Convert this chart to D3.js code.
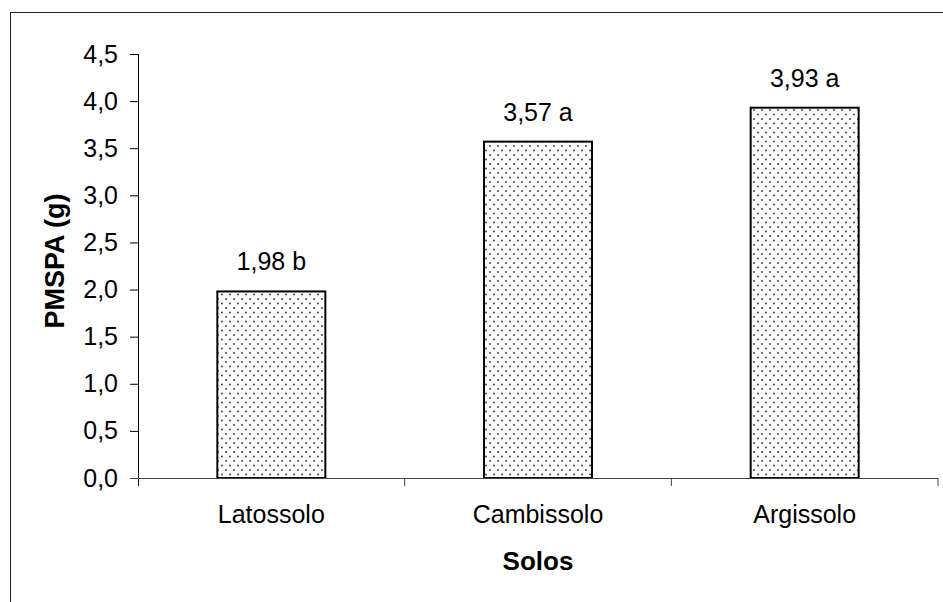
<!DOCTYPE html>
<html>
<head>
<meta charset="utf-8">
<script src="https://cdn.jsdelivr.net/npm/d3@7"></script>
<style>
  body { margin: 0; background: #fff; }
  text { font-family: Arial, "Liberation Sans", sans-serif; fill: #000; }
</style>
</head>
<body>
<div id="chart"></div>
<script>
const soils = ["Latossolo", "Cambissolo", "Argissolo"];
const pmspa = [1.98, 3.57, 3.93];
const letters = ["b", "a", "a"];
const yTicks = [0, 0.5, 1, 1.5, 2, 2.5, 3, 3.5, 4, 4.5];

const width = 943,
  height = 602;

const svg = d3
  .select("#chart")
  .append("svg")
  .attr("width", width)
  .attr("height", height);

// dotted fill like the spreadsheet pattern
const pat = svg
  .append("defs")
  .append("pattern")
  .attr("id", "dots")
  .attr("patternUnits", "userSpaceOnUse")
  .attr("width", 8)
  .attr("height", 9);
pat.append("rect").attr("width", 8).attr("height", 9).attr("fill", "#fff");
pat.append("circle").attr("cx", 2).attr("cy", 2).attr("r", 0.9).attr("fill", "#333");
pat.append("circle").attr("cx", 6).attr("cy", 6.5).attr("r", 0.9).attr("fill", "#333");

// outer frame (runs off right and bottom)
svg
  .append("rect")
  .attr("x", 10.5)
  .attr("y", 12.5)
  .attr("width", 960)
  .attr("height", 620)
  .attr("fill", "none")
  .attr("stroke", "#222")
  .attr("stroke-width", 1);

const plotLeft = 138,
  plotRight = 938,
  plotTop = 54,
  plotBottom = 478;

const x = d3
  .scaleBand()
  .domain(soils)
  .range([plotLeft, plotRight])
  .paddingInner(0.595)
  .paddingOuter(0.2975);

const y = d3.scaleLinear().domain([0, 4.5]).range([plotBottom, plotTop]);

// y axis
const yAxis = svg
  .append("g")
  .attr("transform", `translate(${plotLeft},0)`)
  .call(
    d3
      .axisLeft(y)
      .tickValues(yTicks)
      .tickSize(8)
      .tickPadding(12)
      .tickFormat((d) => d3.format(".1f")(d).replace(".", ","))
  );
yAxis.select(".domain").attr("stroke", "#000").attr("d", `M0.5,${plotTop}V${plotBottom + 8}`);
yAxis.selectAll(".tick line").attr("stroke", "#000");
yAxis
  .selectAll(".tick text")
  .attr("font-size", 25)
  .attr("font-family", "Arial, 'Liberation Sans', sans-serif")
  .attr("fill", "#000");

// bars
svg
  .append("g")
  .selectAll("rect")
  .data(soils)
  .join("rect")
  .attr("x", (d) => x(d))
  .attr("y", (d, i) => y(pmspa[i]))
  .attr("width", x.bandwidth())
  .attr("height", (d, i) => plotBottom - y(pmspa[i]))
  .attr("fill", "url(#dots)")
  .attr("stroke", "#000")
  .attr("stroke-width", 2);

// x axis line + ticks between categories
const step = x.step();
const xTickPos = [1, 2, 3].map((k) => plotLeft + k * step);
svg
  .append("line")
  .attr("x1", plotLeft - 8)
  .attr("x2", plotRight)
  .attr("y1", plotBottom + 0.5)
  .attr("y2", plotBottom + 0.5)
  .attr("stroke", "#444");
svg
  .append("g")
  .selectAll("line")
  .data(xTickPos)
  .join("line")
  .attr("x1", (d) => d)
  .attr("x2", (d) => d)
  .attr("y1", plotBottom)
  .attr("y2", plotBottom + 8)
  .attr("stroke", "#444");

// category labels
svg
  .append("g")
  .selectAll("text")
  .data(soils)
  .join("text")
  .attr("x", (d) => x(d) + x.bandwidth() / 2)
  .attr("y", 523)
  .attr("text-anchor", "middle")
  .attr("font-size", 25)
  .text((d) => d);

// value labels
svg
  .append("g")
  .selectAll("text")
  .data(soils)
  .join("text")
  .attr("x", (d) => x(d) + x.bandwidth() / 2)
  .attr("y", (d, i) => y(pmspa[i]) - 21)
  .attr("text-anchor", "middle")
  .attr("font-size", 25)
  .text((d, i) => pmspa[i].toFixed(2).replace(".", ",") + " " + letters[i]);

// axis titles
svg
  .append("text")
  .attr("x", (plotLeft + plotRight) / 2)
  .attr("y", 570)
  .attr("text-anchor", "middle")
  .attr("font-size", 26)
  .attr("font-weight", "bold")
  .text("Solos");

svg
  .append("text")
  .attr("transform", `translate(64,261) rotate(-90)`)
  .attr("text-anchor", "middle")
  .attr("font-size", 27)
  .attr("font-weight", "bold")
  .text("PMSPA (g)");
</script>
</body>
</html>
